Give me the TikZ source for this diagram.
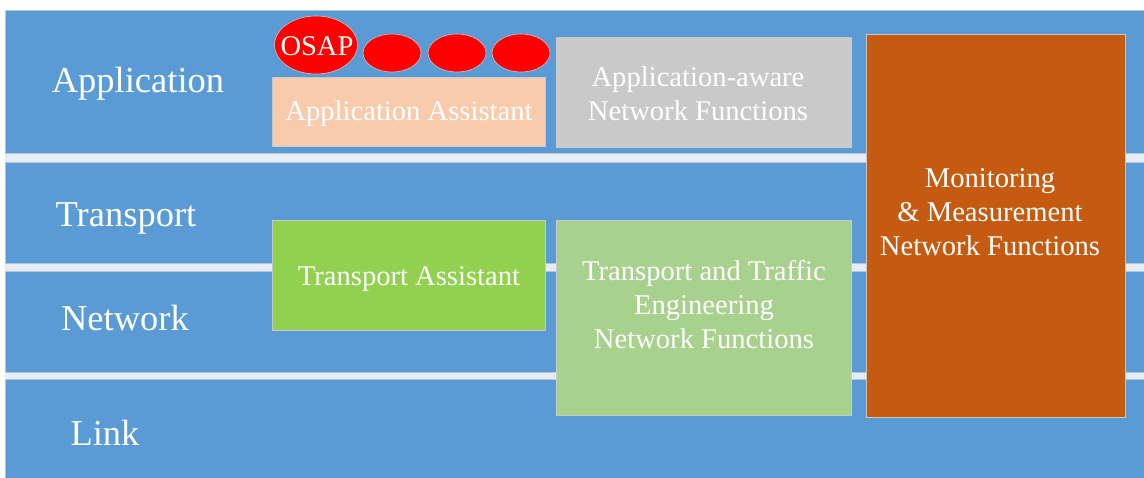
\documentclass[tikz,border=0pt]{standalone}
\usepackage{fontspec}
\setmainfont{Liberation Serif}
\newfontfamily\tnr{Liberation Serif}
\usetikzlibrary{shapes.geometric}
\definecolor{bandblue}{HTML}{5B9BD5}
\definecolor{gapcol}{HTML}{E4ECF5}
\definecolor{edgecol}{HTML}{B8C4D0}
\definecolor{aacol}{HTML}{F8CBAD}
\definecolor{grycol}{HTML}{C9C9C9}
\definecolor{tacol}{HTML}{92D050}
\definecolor{ttecol}{HTML}{A9D18E}
\definecolor{moncol}{HTML}{C55A11}
\definecolor{boxedge}{HTML}{C8C8C8}
\tikzset{
  band/.style={fill=bandblue, draw=edgecol, line width=0.8bp},
  layerlabel/.style={text=white, font=\tnr\fontsize{36.5bp}{40bp}\selectfont, inner sep=0pt},
  fbox/.style={draw=boxedge, line width=0.8bp, inner sep=0pt, anchor=north west},
  boxtext/.style={text=white, align=center, font=\tnr\fontsize{28.6bp}{34bp}\selectfont, inner sep=0pt},
  oval/.style={ellipse, fill=red, draw=boxedge, line width=0.6bp, inner sep=0pt}
}
\begin{document}
\begin{tikzpicture}[x=1bp, y=-1bp]
\useasboundingbox (0,0) rectangle (1144,478);
\fill[white] (0,0) rectangle (1144,478);
\fill[gapcol] (5,150) rectangle (1150,382);
% bands
\draw[band] (5,10) rectangle (1150,153);
\draw[band] (5,162) rectangle (1150,263);
\draw[band] (5,271) rectangle (1150,372);
\draw[band] (5,379) rectangle (1150,490);
% layer labels
\node[layerlabel] (lapp) at (138,84) {Application};
\node[layerlabel] (ltra) at (126,218) {Transport};
\node[layerlabel] (lnet) at (125,318) {Network};
\node[layerlabel] (llnk) at (105,433) {Link};
% boxes
\node[fbox, fill=aacol, minimum width=273bp, minimum height=69bp] (aa) at (272,77) {};
\node[boxtext] (aat) at (409,114) {Application Assistant};
\node[fbox, fill=grycol, minimum width=295bp, minimum height=110bp] (aanf) at (556,37) {};
\node[boxtext] (aanft) at (698,94) {Application-aware\\Network Functions};
\node[fbox, fill=tacol, minimum width=273bp, minimum height=110bp] (ta) at (272,220) {};
\node[boxtext] (tat) at (409,279) {Transport Assistant};
\node[fbox, fill=ttecol, minimum width=295bp, minimum height=195bp] (tte) at (556,220) {};
\node[boxtext] (ttet) at (704,305) {Transport and Traffic\\Engineering\\Network Functions};
\node[fbox, fill=moncol, minimum width=259bp, minimum height=383bp] (mon) at (866,34) {};
\node[boxtext] (mont) at (990,212) {Monitoring\\\& Measurement\\Network Functions};
% ovals
\node[oval, minimum width=58bp, minimum height=38bp] (o1) at (392,53) {};
\node[oval, minimum width=58bp, minimum height=38bp] (o2) at (457,53) {};
\node[oval, minimum width=58bp, minimum height=38bp] (o3) at (521,53) {};
\node[oval, minimum width=83bp, minimum height=58bp] (osap) at (316,45) {};
\node[text=white, inner sep=0pt, font=\tnr\fontsize{28.5bp}{30bp}\selectfont] (osapt) at (317,46) {OSAP};
\end{tikzpicture}
\end{document}
